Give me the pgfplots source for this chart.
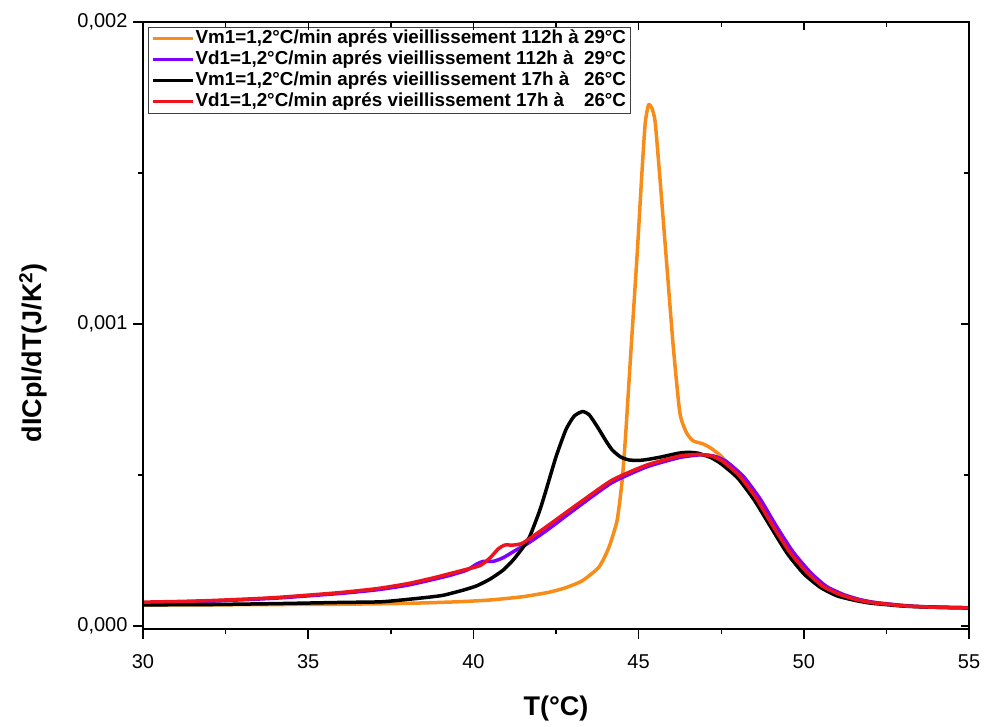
\documentclass[border=0pt]{standalone}
\usepackage{pgfplots}
\pgfplotsset{compat=1.18}
\usepackage{fontspec}
\setmainfont{Liberation Sans}
\definecolor{corange}{RGB}{248,140,24}
\definecolor{cpurple}{RGB}{128,0,255}
\definecolor{cred}{RGB}{238,20,30}
\newlength\legw
\begin{document}
\settowidth{\legw}{\fontsize{18.8}{22}\selectfont\bfseries Vm1=1,2°C/min aprés vieillissement 112h à 29°C}%
\begin{tikzpicture}
\begin{axis}[
  width=826pt, height=607pt, scale only axis,
  xmin=30, xmax=55, ymin=-0.01e-3, ymax=2e-3,
  scaled x ticks=false, scaled y ticks=false,
  axis line style={line width=1.6pt},
  tick style={line width=1.4pt, black},
  major tick length=10pt, minor tick length=5pt,
  tick align=outside, xtick pos=left, ytick pos=left,
  xtick={30,35,40,45,50,55}, xticklabels={30,35,40,45,50,55},
  minor xtick={32.5,37.5,42.5,47.5,52.5},
  ytick={0,0.001,0.002}, yticklabels={{0,000},{0,001},{0,002}},
  minor ytick={0.0005,0.0015},
  ticklabel style={font=\fontsize{20}{24}\selectfont},
  xticklabel style={yshift=-12pt},
  yticklabel style={xshift=-2pt},
  xlabel={T(°C)}, ylabel={dICpl/dT(J/K\textsuperscript{2})},
  label style={font=\fontsize{27}{32}\selectfont\bfseries},
  xlabel style={at={(axis description cs:0.5,-0.131)}, anchor=center},
  ylabel style={at={(axis description cs:-0.133,0.455)}, anchor=center},
  legend style={at={(axis description cs:0.006,0.992)}, anchor=north west,
    draw=black!75, fill=white, inner xsep=3pt, inner ysep=1pt,
    font=\fontsize{18.8}{22}\selectfont\bfseries,
    nodes={inner xsep=1pt, inner ysep=1pt, text height=14pt, text depth=5pt}},
  legend cell align=left,
  legend image code/.code={\draw[#1] (0pt,0pt) -- (40pt,0pt);},
]
\addplot[corange, line width=3.5pt, smooth, tension=0.35] table {
30 0.070e-3
32 0.070e-3
34 0.071e-3
36 0.072e-3
38 0.075e-3
39.5 0.080e-3
40.5 0.086e-3
41.5 0.097e-3
42.3 0.112e-3
42.8 0.127e-3
43.3 0.150e-3
43.8 0.195e-3
44.1 0.260e-3
44.35 0.350e-3
44.5 0.480e-3
44.6 0.620e-3
44.75 0.880e-3
44.95 1.220e-3
45.1 1.500e-3
45.2 1.665e-3
45.3 1.725e-3
45.4 1.715e-3
45.5 1.670e-3
45.65 1.477e-3
45.85 1.200e-3
46.05 0.924e-3
46.25 0.705e-3
46.45 0.640e-3
46.65 0.613e-3
46.95 0.603e-3
47.2 0.588e-3
47.45 0.567e-3
47.65 0.545e-3
48.17 0.495e-3
48.68 0.420e-3
49.17 0.330e-3
49.68 0.244e-3
50.2 0.177e-3
50.68 0.131e-3
51.2 0.104e-3
51.7 0.087e-3
52.2 0.077e-3
53.2 0.066e-3
54.1 0.062e-3
55 0.060e-3
};
\addlegendentry{\hbox to\legw{Vm1=1,2°C/min aprés vieillissement 112h à\hfill 29°C}}
\addplot[cpurple, line width=3.5pt, smooth, tension=0.35] table {
30 0.076e-3
32 0.082e-3
34 0.092e-3
36 0.108e-3
37.1 0.120e-3
38 0.135e-3
38.7 0.152e-3
39.3 0.168e-3
39.8 0.185e-3
40.1 0.205e-3
40.3 0.214e-3
40.6 0.214e-3
40.9 0.226e-3
41.3 0.252e-3
41.6 0.270e-3
42.2 0.315e-3
43.2 0.397e-3
44.2 0.475e-3
45.25 0.527e-3
46.25 0.558e-3
46.9 0.567e-3
47.3 0.562e-3
47.65 0.545e-3
48.17 0.495e-3
48.68 0.420e-3
49.17 0.330e-3
49.68 0.244e-3
50.2 0.177e-3
50.68 0.131e-3
51.2 0.104e-3
51.7 0.087e-3
52.2 0.077e-3
53.2 0.066e-3
54.1 0.062e-3
55 0.060e-3
};
\addlegendentry{\hbox to\legw{Vd1=1,2°C/min aprés vieillissement 112h à\hfill 29°C}}
\addplot[black, line width=3.5pt, smooth, tension=0.35] table {
30 0.070e-3
32 0.071e-3
34 0.074e-3
36 0.078e-3
37.2 0.080e-3
38.1 0.089e-3
38.7 0.096e-3
39.1 0.102e-3
39.7 0.119e-3
40.1 0.133e-3
40.5 0.155e-3
40.9 0.185e-3
41.2 0.218e-3
41.5 0.260e-3
41.7 0.295e-3
42.0 0.380e-3
42.2 0.450e-3
42.5 0.560e-3
42.8 0.650e-3
43.05 0.695e-3
43.3 0.710e-3
43.5 0.700e-3
43.75 0.660e-3
44.0 0.615e-3
44.2 0.583e-3
44.45 0.560e-3
44.7 0.550e-3
45.0 0.548e-3
45.3 0.552e-3
45.7 0.560e-3
46.2 0.572e-3
46.5 0.575e-3
46.8 0.572e-3
47.2 0.557e-3
47.5 0.537e-3
48.0 0.490e-3
48.5 0.417e-3
49.0 0.328e-3
49.5 0.240e-3
50.0 0.173e-3
50.5 0.128e-3
51.0 0.100e-3
51.5 0.086e-3
52.0 0.076e-3
53.0 0.066e-3
54.0 0.062e-3
55.0 0.060e-3
};
\addlegendentry{\hbox to\legw{Vm1=1,2°C/min aprés vieillissement 17h à\hfill 26°C}}
\addplot[cred, line width=3.5pt, smooth, tension=0.35] table {
30 0.079e-3
31 0.081e-3
32 0.084e-3
33.1 0.089e-3
34 0.094e-3
35.1 0.103e-3
36 0.111e-3
37.1 0.124e-3
38 0.140e-3
38.7 0.157e-3
39.1 0.168e-3
39.7 0.185e-3
40.2 0.200e-3
40.5 0.225e-3
40.75 0.255e-3
40.95 0.268e-3
41.2 0.268e-3
41.5 0.275e-3
42.2 0.328e-3
43.2 0.407e-3
44.2 0.483e-3
45.25 0.533e-3
46.25 0.563e-3
46.8 0.568e-3
47.2 0.563e-3
47.55 0.545e-3
48.07 0.495e-3
48.58 0.420e-3
49.07 0.330e-3
49.58 0.244e-3
50.1 0.177e-3
50.58 0.131e-3
51.1 0.104e-3
51.6 0.087e-3
52.1 0.077e-3
53.1 0.066e-3
54 0.062e-3
55 0.060e-3
};
\addlegendentry{\hbox to\legw{Vd1=1,2°C/min aprés vieillissement 17h à\hfill 26°C}}
\end{axis}
\begin{axis}[
  width=826pt, height=607pt, scale only axis,
  xmin=30, xmax=55, ymin=-0.01e-3, ymax=2e-3,
  scaled x ticks=false, scaled y ticks=false,
  axis line style={line width=1.6pt},
  tick style={line width=1.4pt, black},
  major tick length=8pt, minor tick length=5pt,
  tick align=inside, xtick pos=right, ytick pos=right,
  xtick={30,35,40,45,50,55}, xticklabels={},
  minor xtick={32.5,37.5,42.5,47.5,52.5},
  ytick={0,0.001,0.002}, yticklabels={},
  minor ytick={0.0005,0.0015},
]
\end{axis}
\pgfresetboundingbox
\path[use as bounding box] (-143pt,-97pt) rectangle (842pt,629pt);
\end{tikzpicture}
\end{document}
